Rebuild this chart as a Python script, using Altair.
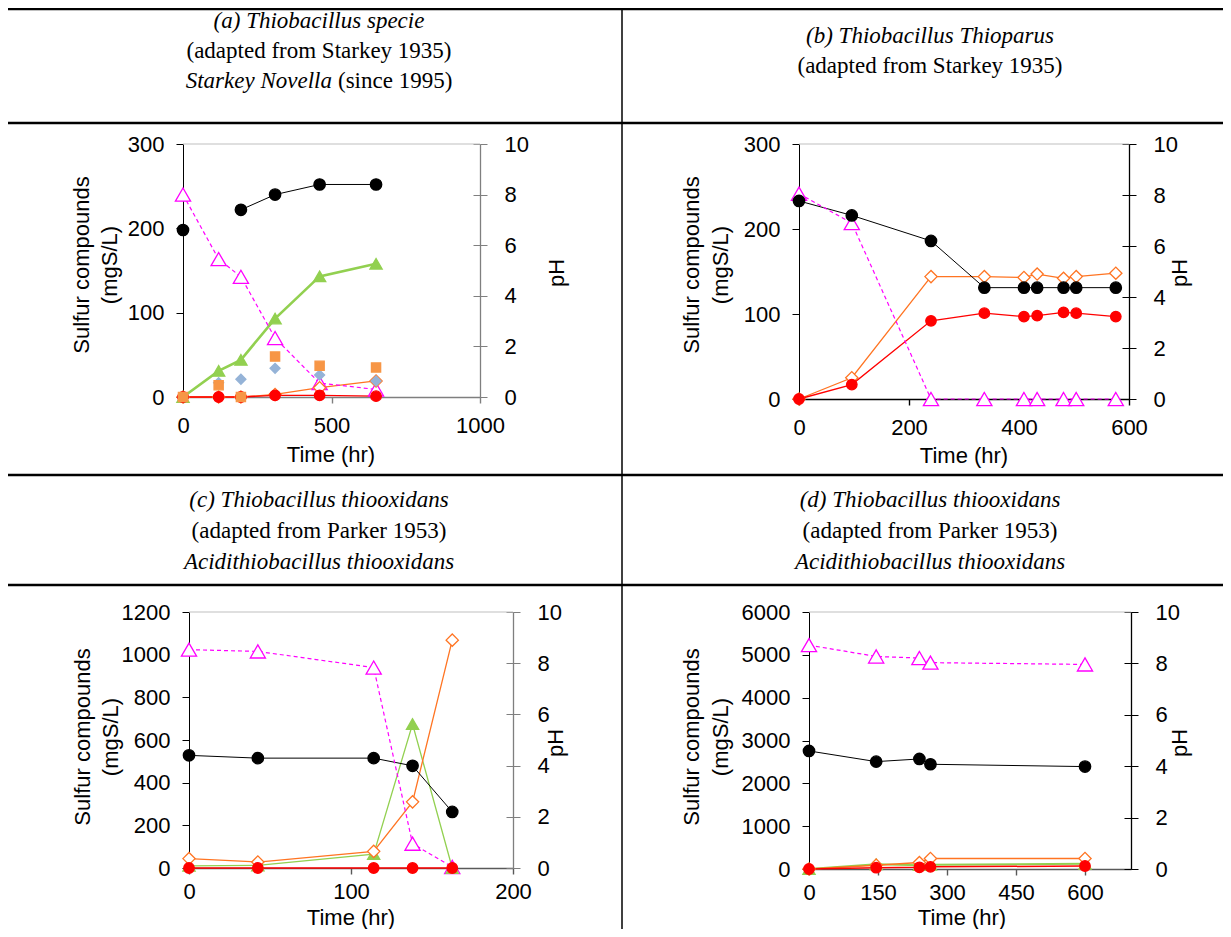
import altair as alt
import pandas as pd

# ---------------- values ----------------
PH_TICKS = [0, 2, 4, 6, 8, 10]

# (a) Thiobacillus specie
a_time = [0, 120, 195, 310, 460, 650]
a_black = [198, None, 222, 240, 252, 252]
a_green = [0, 31, 44, 93, 143, 158]
a_square = [0, 14, 0, 48, 37, 35]
a_bdiam = [0, 17, 21, 34, 26, 19]
a_odiam = [0, 0, 0, 3, 11, 19]
a_red = [0, 0, 0, 2, 2, 1]
a_ph = [8.0, 5.45, 4.75, 2.33, 0.55, 0.3]
a_xticks = [0, 500, 1000]
a_yticks = [0, 100, 200, 300]

# (b) Thiobacillus Thioparus
b_time = [0, 96, 240, 337, 409, 433, 481, 504, 576]
b_black = [233, 216, 186, 131, 131, 131, 131, 131, 131]
b_odiam = [0, 25, 144, 144, 143, 147, 142, 144, 148]
b_red = [0, 17, 92, 101, 97, 98, 102, 101, 97]
b_ph = [8.05, 6.9, 0, 0, 0, 0, 0, 0, 0]
b_xticks = [0, 200, 400, 600]
b_yticks = [0, 100, 200, 300]

# (c) Thiobacillus thiooxidans
c_time = [0, 42.5, 114, 138, 162.5]
c_black = [528, 515, 515, 479, 263]
c_odiam = [44, 28, 78, 310, 1068]
c_green = [10, 12, 65, 675, 0]
c_red = [0, 0, 0, 0, 0]
c_ph = [8.53, 8.46, 7.83, 0.95, 0.04]
c_xticks = [0, 100, 200]
c_yticks = [0, 200, 400, 600, 800, 1000, 1200]

# (d) Thiobacillus thiooxidans
d_time = [0, 146, 240, 264, 600]
d_black = [2756, 2507, 2569, 2445, 2391]
d_odiam = [0, 90, 150, 245, 245]
d_green = [0, 110, 90, 100, 120]
d_red = [0, 30, 40, 50, 70]
d_ph = [8.71, 8.27, 8.21, 8.03, 7.96]
d_xticks = [0, 150, 300, 450, 600]
d_yticks = [0, 1000, 2000, 3000, 4000, 5000, 6000]

# ---------------- styles / layout ----------------
W, H = 1215, 921
SANS = "Liberation Sans"
SERIF = "Liberation Serif"
FS = 22
MAGENTA = "#FF00FF"

STYLE = {
    "green": {"col": "#92D050", "fill": "#92D050", "shape": "triangle-up", "size": 150},
    "odiam": {"col": "#FF7422", "fill": "#FFFFFF", "shape": "diamond", "size": 150},
    "bdiam": {"col": "#95B3D7", "fill": "#95B3D7", "shape": "diamond", "size": 100},
    "red": {"col": "#FF0000", "fill": "#FF0000", "shape": "circle", "size": 110},
    "square": {"col": "#F79646", "fill": "#F79646", "shape": "square", "size": 85},
    "black": {"col": "#000000", "fill": "#000000", "shape": "circle", "size": 130},
}
ORDER = ["green", "odiam", "bdiam", "red", "square", "black"]


def panel(key, time, series, ph, line_w, line_from, xdom, xticks, ydom, yticks,
          box, bottom_col, right_col, xlab_pad):
    x0, x1, y0, y1 = box
    xs = alt.Scale(domain=xdom, range=[x0, x1], nice=False, zero=False)
    ys = alt.Scale(domain=ydom, range=[y0, y1], nice=False, zero=False)
    ps = alt.Scale(domain=[0, 10], range=[y0, y1], nice=False, zero=False)

    pts, lns = [], []
    for name in ORDER:
        if name not in series:
            continue
        st = STYLE[name]
        for i, (t, v) in enumerate(zip(time, series[name])):
            if v is None:
                continue
            pts.append({"t": t, "v": v, "col": st["col"], "fill": st["fill"],
                        "shape": st["shape"], "size": st["size"]})
            if name in line_w and i >= line_from.get(name, 0):
                lns.append({"t": t, "v": v, "seg": key + name, "col": st["col"],
                            "lw": line_w[name]})
    df_pt = pd.DataFrame(pts)
    df_ln = pd.DataFrame(lns)
    df_ph = pd.DataFrame({"t": time, "ph": ph})

    bottom_axis = alt.Axis(orient="bottom", offset=y0 - H, values=xticks, format="d",
                           title=None, grid=False, domainColor=bottom_col,
                           tickColor=bottom_col, domainWidth=1.6, tickWidth=1.4,
                           tickSize=6, labelPadding=xlab_pad, labelFlush=False,
                           labelOverlap=False)
    left_axis = alt.Axis(orient="left", offset=-x0, values=yticks, format="d",
                         title=None, grid=False, domainColor="#000000",
                         tickColor="#000000", tickSize=7, labelPadding=12,
                         labelOverlap=False)
    right_axis = alt.Axis(orient="right", offset=x1 - W, values=PH_TICKS, format="d",
                          title=None, grid=False, domainColor=right_col,
                          tickColor=right_col, domainWidth=1.3, tickSize=7,
                          labelPadding=17, labelOverlap=False)
    cross_axis = alt.Axis(orient="left", offset=-x1, values=PH_TICKS, labels=False,
                          domain=False, title=None, grid=False, tickColor=right_col,
                          tickSize=7)

    xn = alt.X("t:Q", scale=xs, axis=None)
    lines = alt.Chart(df_ln).mark_line(clip=False).encode(
        x=alt.X("t:Q", scale=xs, axis=bottom_axis),
        y=alt.Y("v:Q", scale=ys, axis=left_axis),
        detail="seg:N",
        color=alt.Color("col:N", scale=None),
        strokeWidth=alt.StrokeWidth("lw:Q", scale=None),
        order="t:Q",
    )
    ph_line = alt.Chart(df_ph).mark_line(color=MAGENTA, strokeWidth=1.2,
                                         strokeDash=[4, 3]).encode(
        x=xn, y=alt.Y("ph:Q", scale=ps, axis=right_axis), order="t:Q")
    ph_pts = alt.Chart(df_ph).mark_point(shape="triangle-up", size=230, filled=True,
                                         fill="#FFFFFF", stroke=MAGENTA,
                                         strokeWidth=1.3, opacity=1).encode(
        x=xn, y=alt.Y("ph:Q", scale=ps, axis=None))
    cross = alt.Chart(df_ph).mark_point(opacity=0).encode(
        x=xn, y=alt.Y("ph:Q", scale=ps, axis=cross_axis))
    points = alt.Chart(df_pt).mark_point(filled=True, opacity=1, strokeWidth=1.3).encode(
        x=xn, y=alt.Y("v:Q", scale=ys, axis=None),
        shape=alt.Shape("shape:N", scale=None),
        fill=alt.Fill("fill:N", scale=None),
        stroke=alt.Stroke("col:N", scale=None),
        size=alt.Size("size:Q", scale=None),
    )
    return [lines, ph_line, ph_pts, cross, points]


BOX = {
    "a": (175, 472, 389, 136),
    "b": (791, 1121, 391, 136),
    "c": (181, 505, 860, 604),
    "d": (801, 1123, 861, 604),
}

layers = []

# table rules and plot-area top borders
rules = pd.DataFrame([
    {"x": 0, "x2": W, "y": 1, "y2": 1, "col": "#000000", "lw": 2.5},
    {"x": 0, "x2": W, "y": 115, "y2": 115, "col": "#000000", "lw": 2.5},
    {"x": 0, "x2": W, "y": 467, "y2": 467, "col": "#000000", "lw": 2.5},
    {"x": 0, "x2": W, "y": 577, "y2": 577, "col": "#000000", "lw": 2.5},
    {"x": 614, "x2": 614, "y": 0, "y2": H, "col": "#000000", "lw": 1.5},
] + [
    {"x": b[0], "x2": b[1], "y": b[3], "y2": b[3], "col": "#BFBFBF", "lw": 1.2}
    for b in BOX.values()
])
layers.append(alt.Chart(rules).mark_rule().encode(
    x=alt.X("x:Q", scale=None, axis=None), x2="x2:Q",
    y=alt.Y("y:Q", scale=None, axis=None), y2="y2:Q",
    color=alt.Color("col:N", scale=None),
    strokeWidth=alt.StrokeWidth("lw:Q", scale=None)))


def text_layer(rows, **kw):
    df = pd.DataFrame(rows, columns=["x", "y", "text"])
    return alt.Chart(df).mark_text(baseline="middle", **kw).encode(
        x=alt.X("x:Q", scale=None, axis=None),
        y=alt.Y("y:Q", scale=None, axis=None),
        text="text:N")


HFS = 23
LX, RX = 311, 922
layers.append(text_layer([
    (LX, 13, "(a) Thiobacillus specie"),
    (RX, 28, "(b) Thiobacillus Thioparus"),
    (LX, 492, "(c) Thiobacillus thiooxidans"),
    (RX, 492, "(d) Thiobacillus thiooxidans"),
    (LX, 554, "Acidithiobacillus thiooxidans"),
    (RX, 554, "Acidithiobacillus thiooxidans"),
], font=SERIF, fontSize=HFS, fontStyle="italic", align="center", color="#000000"))
layers.append(text_layer([
    (LX, 43, "(adapted from Starkey 1935)"),
    (RX, 58, "(adapted from Starkey 1935)"),
    (LX, 523, "(adapted from Parker 1953)"),
    (RX, 523, "(adapted from Parker 1953)"),
], font=SERIF, fontSize=HFS, align="center", color="#000000"))
layers.append(text_layer([(324, 73, "Starkey Novella")], font=SERIF, fontSize=HFS,
                         fontStyle="italic", align="right", color="#000000"))
layers.append(text_layer([(330, 73, "(since 1995)")], font=SERIF, fontSize=HFS,
                         align="left", color="#000000"))

# axis titles
layers.append(text_layer([
    (74, 257, "Sulfur compounds"), (102, 257, "(mgS/L)"), (549, 265, "pH"),
    (684, 257, "Sulfur compounds"), (713, 257, "(mgS/L)"), (1172, 265, "pH"),
    (75, 729, "Sulfur compounds"), (103, 729, "(mgS/L)"), (548, 735, "pH"),
    (684, 729, "Sulfur compounds"), (713, 729, "(mgS/L)"), (1172, 735, "pH"),
], font=SANS, fontSize=FS, angle=270, align="center", color="#000000"))
layers.append(text_layer([
    (323, 447, "Time (hr)"), (956, 448, "Time (hr)"),
    (343, 910, "Time (hr)"), (954, 910, "Time (hr)"),
], font=SANS, fontSize=FS, align="center", color="#000000"))

layers += panel("a", a_time,
                {"black": a_black, "green": a_green, "square": a_square,
                 "bdiam": a_bdiam, "odiam": a_odiam, "red": a_red},
                a_ph, {"black": 1.0, "green": 2.6, "odiam": 1.3, "red": 1.3},
                {"black": 2}, [0, 1000], a_xticks, [0, 300], a_yticks,
                BOX["a"], "#7F7F7F", "#7F7F7F", 12)
layers += panel("b", b_time,
                {"black": b_black, "odiam": b_odiam, "red": b_red},
                b_ph, {"black": 1.0, "odiam": 1.3, "red": 1.3},
                {}, [0, 600], b_xticks, [0, 300], b_yticks,
                BOX["b"], "#000000", "#000000", 12)
layers += panel("c", c_time,
                {"black": c_black, "green": c_green, "odiam": c_odiam, "red": c_red},
                c_ph, {"black": 1.0, "green": 1.3, "odiam": 1.3, "red": 1.5},
                {}, [0, 200], c_xticks, [0, 1200], c_yticks,
                BOX["c"], "#595959", "#7F7F7F", 7)
layers += panel("d", d_time,
                {"black": d_black, "green": d_green, "odiam": d_odiam, "red": d_red},
                d_ph, {"black": 1.0, "green": 2.0, "odiam": 1.5, "red": 1.5},
                {}, [0, 700], d_xticks, [0, 6000], d_yticks,
                BOX["d"], "#595959", "#000000", 7)

chart = alt.layer(*layers).resolve_scale(
    x="independent", y="independent"
).resolve_axis(
    x="independent", y="independent"
).properties(
    width=W, height=H, padding=0, background="#FFFFFF",
    autosize=alt.AutoSizeParams(type="none"),
).configure_view(stroke=None).configure_axis(
    labelFont=SANS, labelFontSize=FS, labelColor="#000000",
)

chart.save("out.html", embed_options={"renderer": "svg", "actions": False})
